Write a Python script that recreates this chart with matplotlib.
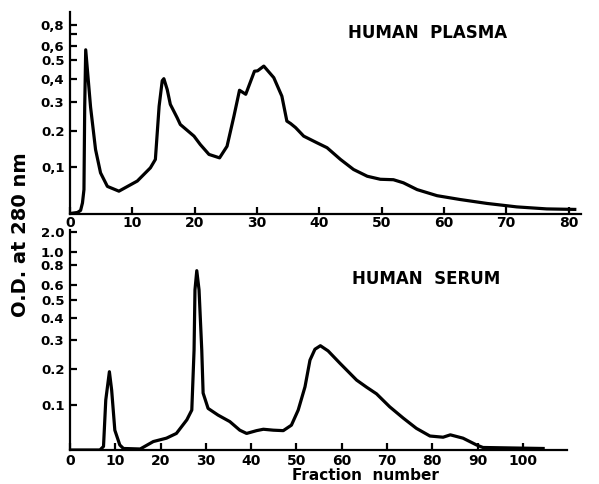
import numpy as np
import matplotlib
matplotlib.use("Agg")
import matplotlib.pyplot as plt

# ---------------- data ----------------
plasma_fraction = [0, 1.2, 1.7, 2.0, 2.24, 2.36, 2.52, 3.3, 4.1, 4.9, 6.0, 7.85, 10.8, 12.9,
                   13.7, 14.3, 14.8, 15.06, 15.6, 16.1, 17.2, 17.7, 19.9, 20.9, 22.3, 24.0,
                   25.2, 26.3, 27.2, 28.2, 29.6, 30.1, 31.1, 32.7, 34.0, 34.8, 35.4, 36.2,
                   37.5, 39.6, 41.25, 43.4, 45.5, 47.7, 49.8, 51.9, 53.5, 55.7, 58.9, 62.6,
                   66.9, 71.7, 76.5, 81.0]
plasma_od = [0.0, 0.002, 0.006, 0.021, 0.049, 0.28, 0.57, 0.28, 0.146, 0.087, 0.056, 0.0456,
             0.068, 0.099, 0.12, 0.283, 0.39, 0.40, 0.35, 0.29, 0.242, 0.22, 0.184, 0.16,
             0.133, 0.124, 0.155, 0.247, 0.347, 0.33, 0.438, 0.44, 0.466, 0.405, 0.322,
             0.231, 0.223, 0.21, 0.184, 0.165, 0.151, 0.12, 0.095, 0.079, 0.072, 0.071,
             0.064, 0.049, 0.036, 0.028, 0.020, 0.013, 0.009, 0.008]

serum_fraction = [0, 6.6, 7.4, 7.9, 8.7, 9.2, 9.9, 11.0, 11.8, 15.5, 18.4, 21.3, 23.5, 25.8,
                  26.9, 27.4, 27.6, 28.0, 28.5, 29.1, 29.4, 30.5, 32.7, 35.3, 37.5, 39.0,
                  41.2, 42.7, 44.9, 47.1, 48.9, 50.4, 51.9, 53.0, 54.1, 55.3, 57.0, 59.6,
                  63.3, 65.5, 67.7, 70.6, 73.6, 76.5, 79.5, 82.4, 84.0, 86.8, 89.8, 91.2,
                  104.5]
serum_od = [0.0, 0.0, 0.007, 0.112, 0.191, 0.138, 0.041, 0.010, 0.003, 0.002, 0.017, 0.024,
            0.034, 0.064, 0.087, 0.263, 0.565, 0.733, 0.565, 0.263, 0.13, 0.091, 0.075,
            0.06, 0.041, 0.034, 0.04, 0.043, 0.041, 0.04, 0.052, 0.087, 0.147, 0.228,
            0.266, 0.279, 0.26, 0.218, 0.166, 0.146, 0.128, 0.095, 0.068, 0.045, 0.0285,
            0.026, 0.031, 0.024, 0.010, 0.005, 0.003]

plasma_yticks = [0.1, 0.2, 0.3, 0.4, 0.5, 0.6, 0.7, 0.8]
plasma_yticklabels = ["0,1", "0.2", "0.3", "0,4", "0.5", "0,6", "", "0,8"]
serum_yticks = [0.1, 0.2, 0.3, 0.4, 0.5, 0.6, 0.8, 1.0, 2.0]
serum_yticklabels = ["0.1", "0.2", "0.3", "0.4", "0.5", "0.6", "0.8", "1.0", "2.0"]
plasma_xticks = [0, 10, 20, 30, 40, 50, 60, 70, 80]
serum_xticks = [0, 10, 20, 30, 40, 50, 60, 70, 80, 90, 100]


# recorder scale: position linear in (1 - transmittance)
def fwd(od):
    od = np.asarray(od, dtype=float)
    return 1.0 - np.power(10.0, -od)


def inv(t):
    t = np.clip(np.asarray(t, dtype=float), -10, 0.999999)
    return -np.log10(1.0 - t)


plt.rcParams['font.family'] = ['DejaVu Sans']
plt.rcParams['font.weight'] = 'bold'

W, H = 599, 484
fig = plt.figure(figsize=(W / 100, H / 100), dpi=100)
ax1 = fig.add_axes([70 / W, 1 - 213.5 / H, 511 / W, 201.6 / H])
ax2 = fig.add_axes([70 / W, 1 - 450 / H, 496.7 / W, 219.8 / H])

lw_curve = 2.3
for ax in (ax1, ax2):
    ax.set_yscale('function', functions=(fwd, inv))
    for s in ('top', 'right'):
        ax.spines[s].set_visible(False)
    for s in ('left', 'bottom'):
        ax.spines[s].set_linewidth(1.6)
        ax.spines[s].set_color('black')
    ax.tick_params(axis='both', direction='in', length=5, width=1.6, colors='black',
                   pad=4)
    ax.minorticks_off()

ax1.plot(plasma_fraction, plasma_od, color='black', lw=lw_curve, solid_joinstyle='round')
ax1.set_xlim(0, 82)
ax1.set_ylim(0, 1.0)
ax1.set_yticks(plasma_yticks)
ax1.set_yticklabels(plasma_yticklabels, fontsize=9.5, fontweight='bold')
ax1.set_xticks(plasma_xticks)
ax1.set_xticklabels([str(v) for v in plasma_xticks], fontsize=10, fontweight='bold')
ax1.tick_params(axis='x', pad=2)

ax2.plot(serum_fraction, serum_od, color='black', lw=lw_curve, solid_joinstyle='round')
ax2.set_xlim(0, 109.7)
ax2.set_ylim(0, 3.0)
ax2.set_yticks(serum_yticks)
ax2.set_yticklabels(serum_yticklabels, fontsize=9.5, fontweight='bold')
ax2.set_xticks(serum_xticks)
ax2.set_xticklabels([str(v) for v in serum_xticks], fontsize=10, fontweight='bold')
ax2.tick_params(axis='x', pad=3)

# texts placed in figure fractions (from pixel positions)
fig.text(428 / W, 1 - 33 / H, "HUMAN  PLASMA", fontsize=12, fontweight='bold',
         ha='center', va='center')
fig.text(426 / W, 1 - 279 / H, "HUMAN  SERUM", fontsize=12, fontweight='bold',
         ha='center', va='center')
fig.text(365 / W, 1 - 475 / H, "Fraction  number", fontsize=11, fontweight='bold',
         ha='center', va='center')
fig.text(21 / W, 1 - 235 / H, "O.D. at 280 nm", fontsize=14, fontweight='bold',
         ha='center', va='center', rotation=90)

fig.savefig("out.png", dpi=100, facecolor='white')
